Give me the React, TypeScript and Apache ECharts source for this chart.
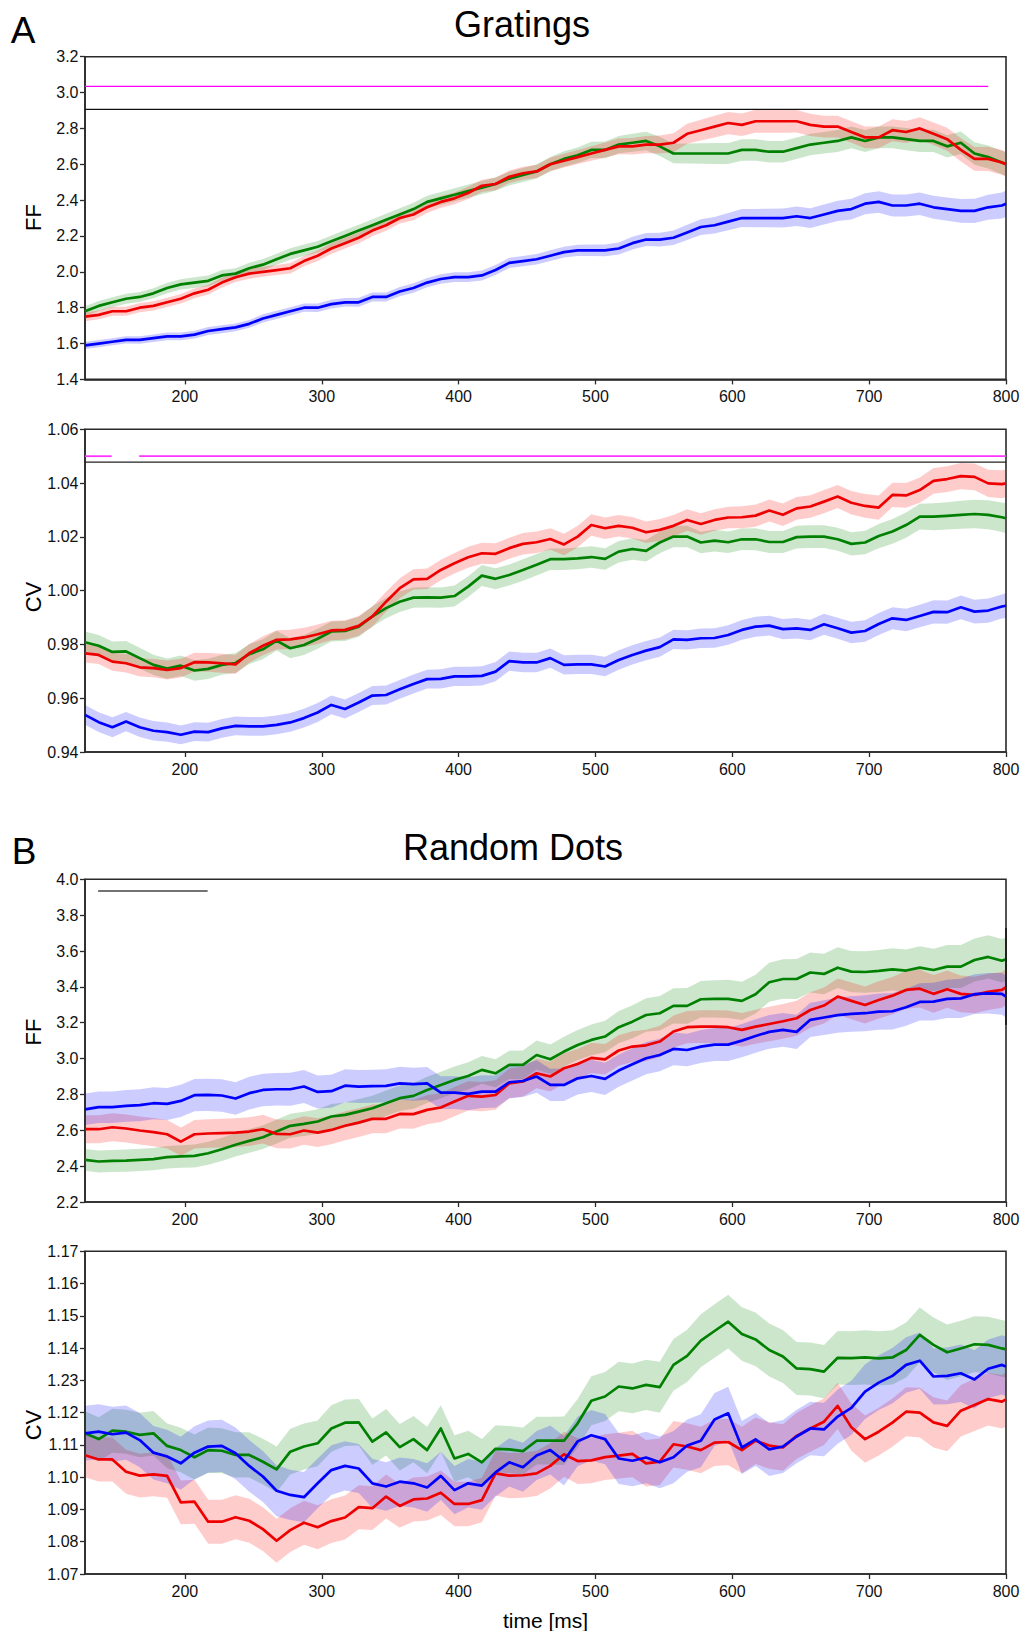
import { useEffect, useRef } from "react";
import * as echarts from "echarts";

// Sample times (ms): every 10 ms from 127 to 797, plus the final sample at 800.
const times: number[] = [];
for (let t = 127; t <= 797; t += 10) times.push(t);
times.push(800);

const xTickValues = [200, 300, 400, 500, 600, 700, 800];

// ---------- Gratings: Fano factor ----------
const gratFfGreen = [
  1.78, 1.81, 1.83, 1.85, 1.86, 1.88, 1.91, 1.93, 1.94, 1.95, 1.98, 1.99, 2.02, 2.04, 2.07, 2.10,
  2.12, 2.14, 2.17, 2.20, 2.23, 2.26, 2.29, 2.32, 2.35, 2.39, 2.41, 2.43, 2.45, 2.47, 2.49, 2.52,
  2.54, 2.56, 2.60, 2.63, 2.65, 2.68, 2.68, 2.71, 2.72, 2.73, 2.70, 2.66, 2.66, 2.66, 2.66, 2.66,
  2.68, 2.68, 2.67, 2.67, 2.69, 2.71, 2.72, 2.73, 2.75, 2.73, 2.75, 2.75, 2.74, 2.73, 2.73, 2.70,
  2.72, 2.66, 2.64, 2.61, 2.60,
];
const gratFfRed = [
  1.75, 1.76, 1.78, 1.78, 1.80, 1.81, 1.83, 1.85, 1.88, 1.90, 1.94, 1.97, 1.99, 2.00, 2.01, 2.02,
  2.06, 2.09, 2.13, 2.16, 2.19, 2.23, 2.26, 2.30, 2.32, 2.36, 2.39, 2.41, 2.44, 2.48, 2.49, 2.53,
  2.55, 2.56, 2.60, 2.62, 2.64, 2.66, 2.68, 2.70, 2.70, 2.71, 2.71, 2.72, 2.77, 2.79, 2.81, 2.83,
  2.82, 2.84, 2.84, 2.84, 2.84, 2.82, 2.81, 2.81, 2.78, 2.75, 2.75, 2.79, 2.78, 2.80, 2.77, 2.74,
  2.68, 2.63, 2.63, 2.61, 2.60,
];
const gratFfBlue = [
  1.59, 1.60, 1.61, 1.62, 1.62, 1.63, 1.64, 1.64, 1.65, 1.67, 1.68, 1.69, 1.71, 1.74, 1.76, 1.78,
  1.80, 1.80, 1.82, 1.83, 1.83, 1.86, 1.86, 1.89, 1.91, 1.94, 1.96, 1.97, 1.97, 1.98, 2.01, 2.05,
  2.06, 2.07, 2.09, 2.11, 2.12, 2.12, 2.12, 2.13, 2.16, 2.18, 2.18, 2.19, 2.22, 2.25, 2.26, 2.28,
  2.30, 2.30, 2.30, 2.30, 2.31, 2.30, 2.32, 2.34, 2.35, 2.38, 2.39, 2.37, 2.37, 2.38, 2.36, 2.35,
  2.34, 2.34, 2.36, 2.37, 2.38,
];
const gratFfErrGreen = [
  0.028, 0.028, 0.028, 0.028, 0.028, 0.028, 0.029, 0.029,
  0.030, 0.030, 0.030, 0.030, 0.031, 0.031, 0.031, 0.032, 0.032, 0.032,
  0.033, 0.033, 0.033, 0.034, 0.034, 0.034, 0.035, 0.035, 0.036, 0.036,
  0.037, 0.037, 0.038, 0.038, 0.039, 0.040, 0.041, 0.042, 0.043, 0.045,
  0.047, 0.048, 0.050, 0.052, 0.054, 0.055, 0.056, 0.057, 0.058, 0.059,
  0.060, 0.060, 0.060, 0.060, 0.060, 0.060, 0.060, 0.061, 0.061, 0.061,
  0.061, 0.061, 0.062, 0.062, 0.062, 0.062, 0.063, 0.063, 0.064, 0.065,
  0.065,
];
const gratFfErrRed = [
  0.025, 0.025, 0.025, 0.025, 0.026, 0.026, 0.026, 0.026,
  0.027, 0.027, 0.027, 0.027, 0.028, 0.028, 0.028, 0.029, 0.029, 0.029,
  0.030, 0.030, 0.030, 0.031, 0.031, 0.031, 0.032, 0.032, 0.033, 0.033,
  0.034, 0.034, 0.035, 0.035, 0.036, 0.036, 0.037, 0.038, 0.039, 0.040,
  0.042, 0.044, 0.046, 0.048, 0.050, 0.053, 0.056, 0.058, 0.060, 0.062,
  0.063, 0.064, 0.064, 0.064, 0.063, 0.062, 0.061, 0.060, 0.060, 0.060,
  0.060, 0.061, 0.061, 0.062, 0.063, 0.064, 0.065, 0.066, 0.068, 0.069,
  0.070,
];
const gratFfErrBlue = [
  0.020, 0.020, 0.020, 0.020, 0.021, 0.021, 0.021, 0.021,
  0.022, 0.022, 0.022, 0.022, 0.022, 0.023, 0.023, 0.023, 0.023, 0.024,
  0.024, 0.024, 0.025, 0.025, 0.025, 0.026, 0.026, 0.026, 0.027, 0.027,
  0.027, 0.028, 0.028, 0.028, 0.029, 0.029, 0.030, 0.030, 0.031, 0.032,
  0.033, 0.034, 0.035, 0.036, 0.038, 0.040, 0.042, 0.044, 0.046, 0.048,
  0.050, 0.051, 0.052, 0.053, 0.054, 0.055, 0.056, 0.057, 0.058, 0.059,
  0.060, 0.061, 0.062, 0.063, 0.064, 0.065, 0.066, 0.068, 0.070, 0.072,
  0.074,
];

// ---------- Gratings: coefficient of variation ----------
const gratCvGreen = [
  0.9808, 0.9795, 0.9772, 0.9774, 0.9749, 0.9724, 0.9710, 0.9721, 0.9703, 0.9709, 0.9724, 0.9731,
  0.9764, 0.9782, 0.9814, 0.9786, 0.9798, 0.9821, 0.9848, 0.9850, 0.9866, 0.9904, 0.9935, 0.9959,
  0.9974, 0.9975, 0.9974, 0.9980, 1.0015, 1.0056, 1.0044, 1.0058,
  1.0077, 1.0096, 1.0117, 1.0117, 1.0120, 1.0125, 1.0118, 1.0145, 1.0155, 1.0148, 1.0179, 1.0201,
  1.0201, 1.0179, 1.0186, 1.0180, 1.0191, 1.0191, 1.0181, 1.0181, 1.0199, 1.0201, 1.0201, 1.0191,
  1.0174, 1.0179, 1.0203, 1.0220, 1.0244, 1.0275, 1.0275, 1.0278, 1.0282, 1.0285, 1.0282, 1.0273,
  1.0269,
];
const gratCvRed = [
  0.9767, 0.9761, 0.9736, 0.9730, 0.9715, 0.9712, 0.9705, 0.9712, 0.9734, 0.9733, 0.9730, 0.9726,
  0.9767, 0.9795, 0.9817, 0.9819, 0.9826, 0.9838, 0.9852, 0.9854, 0.9869, 0.9904, 0.9959, 1.0009,
  1.0042, 1.0044, 1.0077, 1.0102, 1.0124, 1.0139, 1.0137, 1.0158,
  1.0174, 1.0180, 1.0192, 1.0172, 1.0201, 1.0244, 1.0232, 1.0241, 1.0234, 1.0217, 1.0226, 1.0241,
  1.0263, 1.0248, 1.0263, 1.0272, 1.0273, 1.0279, 1.0298, 1.0282, 1.0306, 1.0313, 1.0331, 1.0350,
  1.0327, 1.0315, 1.0309, 1.0356, 1.0354, 1.0374, 1.0408, 1.0415, 1.0426, 1.0423, 1.0399, 1.0396,
  1.0399,
];
const gratCvBlue = [
  0.9538, 0.9511, 0.9492, 0.9513, 0.9492, 0.9479, 0.9474, 0.9464, 0.9476, 0.9474, 0.9488, 0.9497,
  0.9495, 0.9495, 0.9501, 0.9510, 0.9526, 0.9547, 0.9575, 0.9560, 0.9584, 0.9610, 0.9612, 0.9633,
  0.9653, 0.9671, 0.9672, 0.9681, 0.9681, 0.9683, 0.9699, 0.9738,
  0.9733, 0.9733, 0.9749, 0.9724, 0.9726, 0.9726, 0.9718, 0.9742, 0.9761, 0.9777, 0.9790, 0.9819,
  0.9817, 0.9823, 0.9824, 0.9835, 0.9854, 0.9866, 0.9870, 0.9857, 0.9860, 0.9854, 0.9875, 0.9860,
  0.9844, 0.9850, 0.9876, 0.9897, 0.9891, 0.9906, 0.9921, 0.9920, 0.9938, 0.9922, 0.9926, 0.9941,
  0.9944,
];
const gratCvErrGreen = [
  0.0040, 0.0040, 0.0039, 0.0039, 0.0039, 0.0038, 0.0038, 0.0038,
  0.0038, 0.0038, 0.0037, 0.0037, 0.0037, 0.0037, 0.0037, 0.0037, 0.0037, 0.0037,
  0.0037, 0.0037, 0.0037, 0.0038, 0.0038, 0.0038, 0.0038, 0.0038, 0.0038, 0.0039,
  0.0039, 0.0039, 0.0039, 0.0039, 0.0040, 0.0040, 0.0040, 0.0040, 0.0040, 0.0040,
  0.0040, 0.0040, 0.0040, 0.0040, 0.0040, 0.0040, 0.0040, 0.0040, 0.0040, 0.0040,
  0.0040, 0.0041, 0.0041, 0.0041, 0.0042, 0.0042, 0.0042, 0.0043, 0.0043, 0.0044,
  0.0045, 0.0046, 0.0047, 0.0048, 0.0050, 0.0051, 0.0052, 0.0053, 0.0054, 0.0055,
  0.0056,
];
const gratCvErrRed = [
  0.0034, 0.0034, 0.0034, 0.0034, 0.0034, 0.0034, 0.0035, 0.0035,
  0.0035, 0.0035, 0.0035, 0.0035, 0.0035, 0.0035, 0.0036, 0.0036, 0.0036, 0.0036,
  0.0036, 0.0036, 0.0037, 0.0037, 0.0037, 0.0037, 0.0038, 0.0038, 0.0038, 0.0038,
  0.0039, 0.0039, 0.0039, 0.0039, 0.0040, 0.0040, 0.0040, 0.0040, 0.0040, 0.0040,
  0.0040, 0.0040, 0.0040, 0.0040, 0.0040, 0.0040, 0.0040, 0.0040, 0.0040, 0.0040,
  0.0041, 0.0041, 0.0041, 0.0042, 0.0042, 0.0042, 0.0043, 0.0043, 0.0044, 0.0044,
  0.0045, 0.0045, 0.0046, 0.0047, 0.0048, 0.0048, 0.0049, 0.0050, 0.0051, 0.0052,
  0.0052,
];
const gratCvErrBlue = [
  0.0037, 0.0037, 0.0037, 0.0036, 0.0036, 0.0036, 0.0036, 0.0035,
  0.0035, 0.0035, 0.0035, 0.0035, 0.0035, 0.0035, 0.0035, 0.0035, 0.0035, 0.0035,
  0.0035, 0.0035, 0.0035, 0.0035, 0.0035, 0.0035, 0.0035, 0.0035, 0.0036, 0.0036,
  0.0036, 0.0036, 0.0036, 0.0036, 0.0036, 0.0036, 0.0036, 0.0036, 0.0036, 0.0036,
  0.0036, 0.0036, 0.0036, 0.0036, 0.0036, 0.0036, 0.0036, 0.0036, 0.0036, 0.0036,
  0.0037, 0.0037, 0.0037, 0.0038, 0.0038, 0.0038, 0.0039, 0.0039, 0.0040, 0.0040,
  0.0041, 0.0041, 0.0042, 0.0042, 0.0043, 0.0043, 0.0044, 0.0044, 0.0045, 0.0045,
  0.0046,
];

// ---------- Random dots: Fano factor ----------
const dotsFfGreen = [
  2.435, 2.426, 2.429, 2.431, 2.435, 2.439, 2.450, 2.454, 2.457, 2.472, 2.494, 2.519, 2.541, 2.561,
  2.593, 2.625, 2.636, 2.649, 2.677, 2.686, 2.704, 2.723, 2.751, 2.779, 2.792, 2.825, 2.853, 2.881,
  2.903, 2.937, 2.918, 2.965,
  2.965, 3.020, 2.996, 3.039, 3.076, 3.104, 3.123, 3.175, 3.206, 3.243, 3.253, 3.294, 3.294, 3.331,
  3.333, 3.333, 3.322, 3.359, 3.426, 3.444, 3.444, 3.480, 3.472, 3.507, 3.485, 3.483, 3.489, 3.498,
  3.491, 3.507, 3.494, 3.513, 3.513, 3.550, 3.567, 3.546, 3.554,
];
const dotsFfRed = [
  2.606, 2.606, 2.617, 2.610, 2.599, 2.590, 2.578, 2.537, 2.578, 2.582, 2.584, 2.587, 2.593, 2.606,
  2.580, 2.578, 2.599, 2.587, 2.602, 2.625, 2.643, 2.664, 2.664, 2.691, 2.690, 2.714, 2.727, 2.760,
  2.792, 2.788, 2.797, 2.862,
  2.872, 2.918, 2.900, 2.946, 2.970, 3.004, 2.996, 3.045, 3.067, 3.074, 3.095, 3.151, 3.175, 3.178,
  3.178, 3.175, 3.160, 3.178, 3.193, 3.208, 3.225, 3.271, 3.296, 3.346, 3.322, 3.299, 3.327, 3.351,
  3.383, 3.390, 3.361, 3.387, 3.361, 3.355, 3.372, 3.383, 3.398,
];
const dotsFfBlue = [
  2.717, 2.729, 2.729, 2.736, 2.740, 2.751, 2.747, 2.764, 2.796, 2.797, 2.794, 2.777, 2.807, 2.825,
  2.829, 2.829, 2.844, 2.814, 2.818, 2.849, 2.844, 2.846, 2.848, 2.862, 2.857, 2.862, 2.810, 2.810,
  2.803, 2.816, 2.816, 2.868,
  2.875, 2.900, 2.853, 2.853, 2.890, 2.903, 2.887, 2.933, 2.968, 3.002, 3.020, 3.054, 3.048, 3.067,
  3.078, 3.078, 3.100, 3.126, 3.149, 3.160, 3.149, 3.216, 3.229, 3.242, 3.249, 3.253, 3.262, 3.264,
  3.286, 3.316, 3.318, 3.333, 3.336, 3.359, 3.364, 3.361, 3.346,
];
const dotsFfErrGreen = [
  0.061, 0.061, 0.061, 0.062, 0.062, 0.062, 0.063, 0.063,
  0.064, 0.064, 0.065, 0.065, 0.066, 0.066, 0.067, 0.067, 0.068, 0.068,
  0.069, 0.069, 0.070, 0.070, 0.071, 0.071, 0.072, 0.073, 0.074, 0.075,
  0.076, 0.077, 0.078, 0.079, 0.080, 0.081, 0.082, 0.083, 0.084, 0.086,
  0.088, 0.090, 0.092, 0.094, 0.096, 0.098, 0.100, 0.102, 0.104, 0.106,
  0.107, 0.108, 0.109, 0.110, 0.111, 0.112, 0.113, 0.114, 0.115, 0.116,
  0.117, 0.118, 0.118, 0.119, 0.119, 0.120, 0.120, 0.120, 0.121, 0.121,
  0.121,
];
const dotsFfErrRed = [
  0.078, 0.078, 0.078, 0.078, 0.078, 0.079, 0.079, 0.079,
  0.079, 0.080, 0.080, 0.080, 0.080, 0.080, 0.080, 0.080, 0.080, 0.080,
  0.080, 0.080, 0.080, 0.080, 0.080, 0.081, 0.081, 0.081, 0.081, 0.081,
  0.082, 0.082, 0.082, 0.082, 0.083, 0.083, 0.083, 0.084, 0.084, 0.084,
  0.085, 0.085, 0.086, 0.087, 0.088, 0.089, 0.090, 0.091, 0.092, 0.093,
  0.094, 0.095, 0.096, 0.097, 0.098, 0.099, 0.100, 0.101, 0.102, 0.103,
  0.104, 0.104, 0.105, 0.105, 0.105, 0.104, 0.103, 0.102, 0.101, 0.100,
  0.100,
];
const dotsFfErrBlue = [
  0.088, 0.088, 0.088, 0.089, 0.089, 0.089, 0.089, 0.090,
  0.090, 0.090, 0.090, 0.091, 0.091, 0.091, 0.091, 0.092, 0.092, 0.092,
  0.092, 0.092, 0.092, 0.092, 0.092, 0.092, 0.092, 0.091, 0.091, 0.091,
  0.091, 0.091, 0.090, 0.090, 0.090, 0.090, 0.090, 0.090, 0.090, 0.090,
  0.090, 0.090, 0.090, 0.090, 0.091, 0.091, 0.091, 0.092, 0.092, 0.092,
  0.093, 0.093, 0.094, 0.094, 0.095, 0.096, 0.097, 0.098, 0.099, 0.100,
  0.101, 0.102, 0.103, 0.104, 0.105, 0.107, 0.109, 0.111, 0.113, 0.116,
  0.118,
];

// ---------- Random dots: coefficient of variation ----------
const dotsCvGreen = [
  1.1136, 1.1118, 1.1144, 1.1141, 1.1131, 1.1136, 1.1097, 1.1084, 1.1062, 1.1084, 1.1082, 1.1069,
  1.1069, 1.1048, 1.1024, 1.1079, 1.1095, 1.1105, 1.1151, 1.1169, 1.1170, 1.1110, 1.1139, 1.1093,
  1.1118, 1.1084, 1.1151, 1.1058, 1.1072, 1.1046, 1.1088, 1.1086,
  1.1081, 1.1113, 1.1113, 1.1113, 1.1167, 1.1237, 1.1250, 1.1281, 1.1275, 1.1286, 1.1279, 1.1348,
  1.1376, 1.1423, 1.1453, 1.1482, 1.1444, 1.1427, 1.1394, 1.1374, 1.1337, 1.1335, 1.1327, 1.1370,
  1.1369, 1.1371, 1.1368, 1.1371, 1.1394, 1.1441, 1.1410, 1.1387, 1.1399, 1.1412, 1.1410, 1.1399,
  1.1396,
];
const dotsCvRed = [
  1.1068, 1.1055, 1.1055, 1.1017, 1.1005, 1.1009, 1.1004, 1.0922, 1.0924, 1.0862, 1.0862, 1.0876,
  1.0865, 1.0839, 1.0803, 1.0836, 1.0859, 1.0845, 1.0864, 1.0875, 1.0907, 1.0904, 1.0940, 1.0911,
  1.0931, 1.0934, 1.0952, 1.0917, 1.0917, 1.0929, 1.1012, 1.1005,
  1.1006, 1.1012, 1.1035, 1.1071, 1.1050, 1.1052, 1.1062, 1.1067, 1.1072, 1.1043, 1.1048, 1.1102,
  1.1095, 1.1084, 1.1107, 1.1109, 1.1084, 1.1113, 1.1098, 1.1092, 1.1128, 1.1151, 1.1172, 1.1221,
  1.1155, 1.1118, 1.1141, 1.1169, 1.1203, 1.1200, 1.1170, 1.1159, 1.1206, 1.1224, 1.1242, 1.1234,
  1.1241,
];
const dotsCvBlue = [
  1.1136, 1.1141, 1.1133, 1.1138, 1.1115, 1.1076, 1.1064, 1.1043, 1.1076, 1.1095, 1.1097, 1.1074,
  1.1035, 1.1002, 1.0958, 1.0945, 1.0938, 1.0981, 1.1022, 1.1035, 1.1027, 1.0981, 1.0971, 1.0986,
  1.0981, 1.0968, 1.1004, 1.0960, 1.0981, 1.0974, 1.1015, 1.1046,
  1.1031, 1.1067, 1.1084, 1.1051, 1.1111, 1.1130, 1.1118, 1.1058, 1.1051, 1.1061, 1.1046, 1.1062,
  1.1098, 1.1113, 1.1179, 1.1198, 1.1092, 1.1117, 1.1086, 1.1095, 1.1126, 1.1151, 1.1148, 1.1188,
  1.1215, 1.1265, 1.1293, 1.1314, 1.1348, 1.1361, 1.1312, 1.1314, 1.1322, 1.1303, 1.1336, 1.1348,
  1.1343,
];
const dotsCvErrGreen = [
  0.0068, 0.0068, 0.0068, 0.0068, 0.0069, 0.0069, 0.0069, 0.0069,
  0.0070, 0.0070, 0.0070, 0.0070, 0.0070, 0.0071, 0.0071, 0.0071, 0.0071, 0.0071,
  0.0072, 0.0072, 0.0072, 0.0072, 0.0072, 0.0072, 0.0072, 0.0072, 0.0072, 0.0072,
  0.0072, 0.0072, 0.0073, 0.0073, 0.0073, 0.0074, 0.0074, 0.0075, 0.0075, 0.0076,
  0.0076, 0.0077, 0.0077, 0.0078, 0.0079, 0.0080, 0.0081, 0.0082, 0.0083, 0.0083,
  0.0083, 0.0083, 0.0082, 0.0082, 0.0082, 0.0082, 0.0083, 0.0083, 0.0083, 0.0084,
  0.0084, 0.0084, 0.0085, 0.0085, 0.0085, 0.0086, 0.0086, 0.0087, 0.0087, 0.0088,
  0.0088,
];
const dotsCvErrRed = [
  0.0068, 0.0068, 0.0068, 0.0068, 0.0068, 0.0068, 0.0068, 0.0068,
  0.0068, 0.0068, 0.0068, 0.0068, 0.0068, 0.0068, 0.0068, 0.0068, 0.0068, 0.0068,
  0.0068, 0.0068, 0.0068, 0.0068, 0.0068, 0.0068, 0.0068, 0.0068, 0.0069, 0.0069,
  0.0069, 0.0069, 0.0069, 0.0070, 0.0070, 0.0070, 0.0070, 0.0070, 0.0071, 0.0071,
  0.0071, 0.0071, 0.0072, 0.0072, 0.0072, 0.0072, 0.0072, 0.0072, 0.0072, 0.0072,
  0.0072, 0.0072, 0.0072, 0.0072, 0.0072, 0.0072, 0.0072, 0.0072, 0.0073, 0.0073,
  0.0074, 0.0075, 0.0076, 0.0077, 0.0078, 0.0079, 0.0080, 0.0081, 0.0082, 0.0083,
  0.0085,
];
const dotsCvErrBlue = [
  0.0085, 0.0085, 0.0085, 0.0084, 0.0084, 0.0083, 0.0083, 0.0082,
  0.0082, 0.0081, 0.0081, 0.0080, 0.0080, 0.0079, 0.0079, 0.0078, 0.0078, 0.0077,
  0.0077, 0.0076, 0.0076, 0.0076, 0.0075, 0.0075, 0.0075, 0.0075, 0.0075, 0.0075,
  0.0075, 0.0075, 0.0075, 0.0075, 0.0076, 0.0076, 0.0076, 0.0077, 0.0077, 0.0078,
  0.0078, 0.0079, 0.0079, 0.0080, 0.0080, 0.0081, 0.0081, 0.0082, 0.0082, 0.0082,
  0.0082, 0.0082, 0.0082, 0.0082, 0.0083, 0.0083, 0.0083, 0.0084, 0.0084, 0.0085,
  0.0085, 0.0086, 0.0086, 0.0087, 0.0087, 0.0088, 0.0089, 0.0090, 0.0091, 0.0092,
  0.0092,
];

// Printed tick labels of the random-dots CV axis (1.07 … 1.17).
const dotsCvTickLabels = ["1.07", "1.08", "1.09", "1.10", "1.11", "1.12", "1.23", "1.14", "1.15", "1.16", "1.17"];

// Reference markers
const gratFfMagentaLevel = 3.035;
const gratFfBlackLevel = 2.906;
const gratFfMarkerSpan = [127, 787];
const gratCvMagentaLevel = 1.05;
const gratCvMagentaSpans = [
  [127, 146.5],
  [166.6, 800],
];
const gratCvBlackLevel = 1.0478;
const gratCvBlackSpan = [127, 800];
const dotsFfBarLevel = 3.935;
const dotsFfBarSpan = [136.6, 216.6];
const dotsFfEndRange = [3.187, 3.728];

// ---------- styling ----------
const FONT = '"Liberation Sans", Arial, Helvetica, sans-serif';
const AXIS_COLOR = "#2a2a2a";
const LINE_COLORS = { green: "#008000", red: "#ee0000", blue: "#0000ff" };
const BAND_COLORS = {
  green: "rgba(0,128,0,0.2)",
  red: "rgba(255,0,0,0.2)",
  blue: "rgba(0,0,255,0.2)",
};

const GRID_LEFT = 85;
const GRID_WIDTH = 921;
const GRID_HEIGHT = 322.7;
const X_MIN = 127;
const X_MAX = 800;
const TICK_FONT = 16;

type PanelDef = {
  top: number;
  green: number[];
  red: number[];
  blue: number[];
  errGreen: number[];
  errRed: number[];
  errBlue: number[];
  yMin: number;
  yMax: number;
  yStep: number;
  formatLabel: (v: number) => string;
};

const panels: PanelDef[] = [
  {
    top: 56.7,
    green: gratFfGreen,
    red: gratFfRed,
    blue: gratFfBlue,
    errGreen: gratFfErrGreen,
    errRed: gratFfErrRed,
    errBlue: gratFfErrBlue,
    yMin: 1.4,
    yMax: 3.2,
    yStep: 0.2,
    formatLabel: (v) => v.toFixed(1),
  },
  {
    top: 429.3,
    green: gratCvGreen,
    red: gratCvRed,
    blue: gratCvBlue,
    errGreen: gratCvErrGreen,
    errRed: gratCvErrRed,
    errBlue: gratCvErrBlue,
    yMin: 0.94,
    yMax: 1.06,
    yStep: 0.02,
    formatLabel: (v) => v.toFixed(2),
  },
  {
    top: 879.3,
    green: dotsFfGreen,
    red: dotsFfRed,
    blue: dotsFfBlue,
    errGreen: dotsFfErrGreen,
    errRed: dotsFfErrRed,
    errBlue: dotsFfErrBlue,
    yMin: 2.2,
    yMax: 4.0,
    yStep: 0.2,
    formatLabel: (v) => v.toFixed(1),
  },
  {
    top: 1251.3,
    green: dotsCvGreen,
    red: dotsCvRed,
    blue: dotsCvBlue,
    errGreen: dotsCvErrGreen,
    errRed: dotsCvErrRed,
    errBlue: dotsCvErrBlue,
    yMin: 1.07,
    yMax: 1.17,
    yStep: 0.01,
    formatLabel: (v) => dotsCvTickLabels[Math.round((v - 1.07) / 0.01)] ?? "",
  },
];

function bandSeries(idx: number, ys: number[], errs: number[], color: string) {
  return {
    type: "custom",
    xAxisIndex: idx,
    yAxisIndex: idx,
    silent: true,
    z: 1,
    data: [[times[0], ys[0]]],
    encode: { x: 0, y: 1 },
    renderItem: (_params: any, api: any) => {
      const upper = times.map((t, i) => api.coord([t, ys[i] + errs[i]]));
      const lower = times.map((t, i) => api.coord([t, ys[i] - errs[i]])).reverse();
      return {
        type: "polygon",
        shape: { points: upper.concat(lower) },
        style: { fill: color, stroke: "none" },
      };
    },
  };
}

function meanSeries(idx: number, ys: number[], color: string) {
  return {
    type: "line",
    xAxisIndex: idx,
    yAxisIndex: idx,
    silent: true,
    z: 3,
    symbol: "none",
    showSymbol: false,
    data: times.map((t, i) => [t, ys[i]]),
    lineStyle: { color, width: 2.7, join: "round" },
    itemStyle: { color },
  };
}

function segmentSeries(idx: number, pts: number[][], color: string, width: number) {
  return {
    type: "line",
    xAxisIndex: idx,
    yAxisIndex: idx,
    silent: true,
    clip: false,
    z: 4,
    symbol: "none",
    showSymbol: false,
    data: pts,
    lineStyle: { color, width },
    itemStyle: { color },
  };
}

function buildOption() {
  const grid: any[] = [];
  const xAxis: any[] = [];
  const yAxis: any[] = [];
  const series: any[] = [];

  panels.forEach((p, idx) => {
    grid.push({
      left: GRID_LEFT,
      top: p.top,
      width: GRID_WIDTH,
      height: GRID_HEIGHT,
      show: true,
      borderColor: AXIS_COLOR,
      borderWidth: 1.6,
      backgroundColor: "transparent",
    });
    xAxis.push({
      type: "value",
      gridIndex: idx,
      min: X_MIN,
      max: X_MAX,
      axisLine: { show: true, onZero: false, lineStyle: { color: AXIS_COLOR, width: 1.6 } },
      axisTick: {
        show: true,
        customValues: xTickValues,
        length: 5,
        lineStyle: { color: AXIS_COLOR, width: 1.3 },
      },
      axisLabel: {
        customValues: xTickValues,
        margin: 9,
        fontSize: TICK_FONT,
        color: "#111",
        fontFamily: FONT,
      },
      splitLine: { show: false },
    });
    yAxis.push({
      type: "value",
      gridIndex: idx,
      min: p.yMin,
      max: p.yMax,
      interval: p.yStep,
      axisLine: { show: true, onZero: false, lineStyle: { color: AXIS_COLOR, width: 1.6 } },
      axisTick: { show: true, length: 5, lineStyle: { color: AXIS_COLOR, width: 1.3 } },
      axisLabel: {
        margin: 6.5,
        fontSize: TICK_FONT,
        color: "#111",
        fontFamily: FONT,
        formatter: p.formatLabel,
      },
      splitLine: { show: false },
    });

    series.push(bandSeries(idx, p.green, p.errGreen, BAND_COLORS.green));
    series.push(bandSeries(idx, p.red, p.errRed, BAND_COLORS.red));
    series.push(bandSeries(idx, p.blue, p.errBlue, BAND_COLORS.blue));
    series.push(meanSeries(idx, p.green, LINE_COLORS.green));
    series.push(meanSeries(idx, p.red, LINE_COLORS.red));
    series.push(meanSeries(idx, p.blue, LINE_COLORS.blue));
  });

  // Gratings FF markers
  series.push(
    segmentSeries(0, [[gratFfMarkerSpan[0], gratFfMagentaLevel], [gratFfMarkerSpan[1], gratFfMagentaLevel]], "#ff00ff", 1.2)
  );
  series.push(
    segmentSeries(0, [[gratFfMarkerSpan[0], gratFfBlackLevel], [gratFfMarkerSpan[1], gratFfBlackLevel]], "#111111", 1.1)
  );
  // Gratings CV markers
  gratCvMagentaSpans.forEach((s) => {
    series.push(segmentSeries(1, [[s[0], gratCvMagentaLevel], [s[1], gratCvMagentaLevel]], "#ff33ff", 1.8));
  });
  series.push(
    segmentSeries(1, [[gratCvBlackSpan[0], gratCvBlackLevel], [gratCvBlackSpan[1], gratCvBlackLevel]], "#222222", 1.2)
  );
  // Random dots FF markers
  series.push(
    segmentSeries(2, [[dotsFfBarSpan[0], dotsFfBarLevel], [dotsFfBarSpan[1], dotsFfBarLevel]], "#444444", 1.5)
  );
  series.push(segmentSeries(2, [[X_MAX, dotsFfEndRange[0]], [X_MAX, dotsFfEndRange[1]]], "#222222", 2));

  const text = (t: string, x: number, y: number, size: number, rotation = 0) => ({
    type: "text",
    x,
    y,
    rotation,
    silent: true,
    style: {
      text: t,
      fontSize: size,
      fontFamily: FONT,
      fill: "#000",
      align: "center",
      verticalAlign: "middle",
    },
  });

  const graphic = [
    text("A", 23, 30, 37),
    text("Gratings", 522, 24, 36),
    text("B", 24, 851.5, 37),
    text("Random Dots", 513, 847, 36),
    text("FF", 33, 217.5, 22, Math.PI / 2),
    text("CV", 33.5, 597, 22, Math.PI / 2),
    text("FF", 33, 1032, 22, Math.PI / 2),
    text("CV", 33.5, 1425, 22, Math.PI / 2),
    text("time [ms]", 545.5, 1620, 21),
  ];

  return {
    animation: false,
    backgroundColor: "#ffffff",
    grid,
    xAxis,
    yAxis,
    series,
    graphic,
  };
}

export default function App() {
  const ref = useRef<HTMLDivElement>(null);

  useEffect(() => {
    if (!ref.current) return;
    const chart = echarts.init(ref.current, undefined, { renderer: "svg" });
    chart.setOption(buildOption() as any);
    return () => {
      chart.dispose();
    };
  }, []);

  return (
    <div
      ref={ref}
      style={{ position: "absolute", left: 0, top: 0, width: 1024, height: 1631, background: "#fff" }}
    />
  );
}
